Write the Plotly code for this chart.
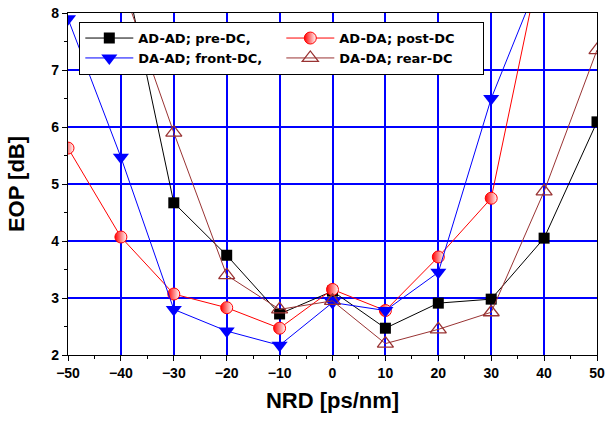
import plotly.graph_objects as go

nrd = [-50, -40, -30, -20, -10, 0, 10, 20, 30, 40, 50]

ad_ad = [12.0, 9.05, 4.67, 3.75, 2.72, 3.12, 2.47, 2.91, 2.98, 4.05, 6.09]
ad_da = [5.63, 4.07, 3.07, 2.83, 2.47, 3.15, 2.78, 3.72, 4.75, 9.2, 12.0]
da_ad = [7.9, 5.47, 2.8, 2.42, 2.17, 2.92, 2.78, 3.45, 6.5, 8.8, 12.0]
da_da = [11.0, 8.55, 5.9, 3.4, 2.8, 2.95, 2.2, 2.45, 2.75, 4.87, 7.35]

names = ["AD-AD; pre-DC,", "AD-DA; post-DC", "DA-AD; front-DC,", "DA-DA; rear-DC"]

fig = go.Figure()
fig.add_trace(go.Scatter(x=nrd, y=ad_ad, name=names[0], mode="lines+markers",
                         line=dict(color="black", width=1),
                         marker=dict(symbol="square", size=11, color="black")))
fig.add_trace(go.Scatter(x=nrd, y=ad_da, name=names[1], mode="lines+markers",
                         line=dict(color="#FF0000", width=1),
                         marker=dict(symbol="circle", size=12, color="#FF0000",
                                     gradient=dict(type="horizontal", color="white"),
                                     line=dict(color="#FF0000", width=1))))
fig.add_trace(go.Scatter(x=nrd, y=da_ad, name=names[2], mode="lines+markers",
                         line=dict(color="#0000FF", width=1),
                         marker=dict(symbol="triangle-down", size=14, color="#0000FF")))
fig.add_trace(go.Scatter(x=nrd, y=da_da, name=names[3], mode="lines+markers",
                         line=dict(color="#993333", width=1),
                         marker=dict(symbol="triangle-up-open", size=14, color="#993333",
                                     line=dict(width=1.3))))

tick_font = dict(family="Liberation Sans, Arial", size=14, color="black", weight="bold")
title_font = dict(family="Liberation Sans, Arial", size=22, color="black", weight="bold")

fig.update_xaxes(range=[-50, 50], tickvals=[-50, -40, -30, -20, -10, 0, 10, 20, 30, 40, 50],
                 showgrid=True, gridcolor="#0000FF", gridwidth=1.5,
                 showline=True, linecolor="black", linewidth=1.2, mirror=True,
                 ticks="outside", ticklen=5, tickcolor="black",
                 minor=dict(dtick=5, ticks="outside", ticklen=3, tickcolor="black", showgrid=False),
                 zeroline=False, automargin=False,
                 tickfont=tick_font,
                 title=dict(text="NRD [ps/nm]", font=title_font, standoff=12))
fig.update_yaxes(range=[2, 8], dtick=1,
                 showgrid=True, gridcolor="#0000FF", gridwidth=1.5,
                 showline=True, linecolor="black", linewidth=1.2, mirror=True,
                 ticks="outside", ticklen=5, tickcolor="black",
                 minor=dict(dtick=0.5, ticks="outside", ticklen=3, tickcolor="black", showgrid=False),
                 zeroline=False, automargin=False,
                 tickfont=tick_font,
                 title=dict(text="EOP [dB]", font=title_font, standoff=20))

fig.update_layout(
    width=608, height=421,
    margin=dict(l=68, r=11, t=13, b=66),
    plot_bgcolor="white", paper_bgcolor="white",
    font=dict(family="Liberation Sans, Arial", color="black"),
    legend=dict(orientation="h", x=0.021, y=0.974, xanchor="left", yanchor="top",
                entrywidth=138, itemwidth=48, bgcolor="white", bordercolor="black", borderwidth=1.2,
                font=dict(family="DejaVu Sans", size=13, color="black", weight="bold"),
                tracegroupgap=0),
    showlegend=True,
)

fig.write_html("out.html")
